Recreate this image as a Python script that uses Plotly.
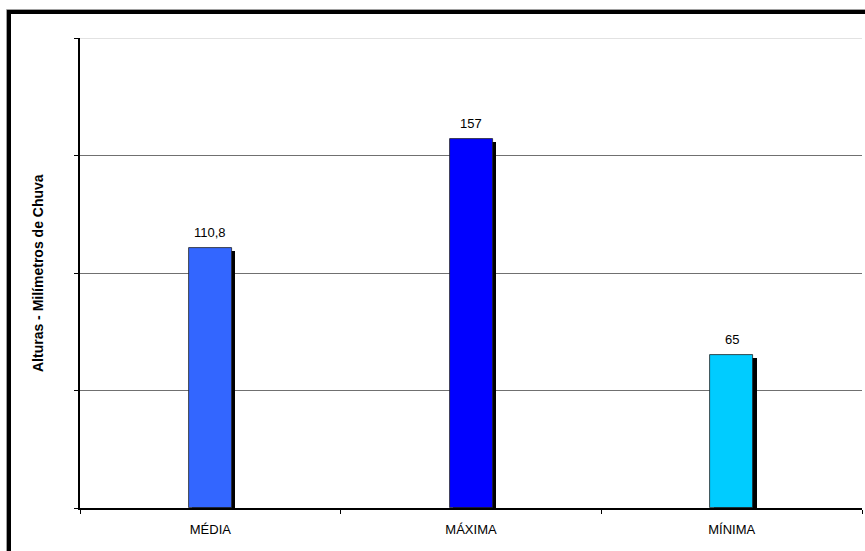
import plotly.graph_objects as go

# Rainfall summary: mean, maximum and minimum (mm)
categories = ["MÉDIA", "MÁXIMA", "MÍNIMA"]
values = [110.8, 157, 65]
bar_colors = ["#3366FF", "#0000FF", "#00CCFF"]
value_labels = [f"{v:g}".replace(".", ",") for v in values]
y_ticks = [0, 50, 100, 150, 200]

W, H = 865, 551
L, R, T, B = 80, 3, 38, 43
plot_w = W - L - R
plot_h = H - T - B
y_max = 200

# pixel -> axis unit conversions for the drop shadow
px_x = 1.0 / plot_w * len(categories)
px_y = y_max / plot_h

bar_width = 0.165
FONT = "Liberation Sans, Arial"

fig = go.Figure()

# black drop shadow, drawn first so the bars sit on top of it
fig.add_trace(go.Bar(
    x=categories,
    y=[v - 3 * px_y for v in values],
    width=bar_width,
    offset=-bar_width / 2 + 3.5 * px_x,
    marker=dict(color="black", line=dict(width=0)),
    hoverinfo="skip",
    showlegend=False,
))

fig.add_trace(go.Bar(
    x=categories,
    y=values,
    width=bar_width,
    offset=-bar_width / 2,
    marker=dict(color=bar_colors, line=dict(color="#222222", width=0.8)),
    hoverinfo="x+y",
    showlegend=False,
))

# value labels above each bar
for cat, v, lab in zip(categories, values, value_labels):
    fig.add_annotation(
        x=cat, y=v, text=lab, showarrow=False,
        xanchor="center", yanchor="bottom", yshift=6,
        font=dict(family=FONT, size=13, color="black"),
    )

# light top edge of the plot area
fig.add_shape(type="line", xref="paper", yref="y", x0=0, x1=1, y0=y_max, y1=y_max,
              line=dict(color="#d9d9d9", width=1.5), layer="below")

# outer chart frame
fig.add_shape(type="rect", xref="paper", yref="paper",
              x0=(6.5 - L) / plot_w, x1=1.2,
              y0=-0.3, y1=(H - B - 9.5) / plot_h,
              line=dict(color="#a0a0a0", width=1))
fig.add_shape(type="rect", xref="paper", yref="paper",
              x0=(9 - L) / plot_w, x1=1.2,
              y0=-0.3, y1=(H - B - 12) / plot_h,
              line=dict(color="black", width=4))

# y-axis title
fig.add_annotation(
    text="<b>Alturas - Milímetros de Chuva</b>",
    xref="paper", yref="paper",
    x=(38 - L) / plot_w, y=0.5,
    xanchor="center", yanchor="middle",
    textangle=-90, showarrow=False,
    font=dict(family=FONT, size=14, color="black"),
)

fig.update_layout(
    width=W, height=H,
    margin=dict(l=L, r=R, t=T, b=B),
    paper_bgcolor="white",
    plot_bgcolor="white",
    barmode="overlay",
    bargap=0,
    font=dict(family=FONT, size=13, color="black"),
    xaxis=dict(
        type="category",
        range=[-0.5, 2.5],
        showline=True, linecolor="black", linewidth=1.5,
        ticks="outside", ticklen=4, tickcolor="black", tickwidth=1,
        tickson="boundaries",
        ticklabelstandoff=9,
        showgrid=False,
        tickfont=dict(family=FONT, size=13, color="black"),
    ),
    yaxis=dict(
        range=[0, y_max],
        tickvals=y_ticks,
        showticklabels=False,
        showline=True, linecolor="black", linewidth=1.5,
        ticks="outside", ticklen=4, tickcolor="black", tickwidth=1,
        showgrid=True, gridcolor="#707070", gridwidth=1,
        zeroline=False,
    ),
)

fig.write_html("out.html")
